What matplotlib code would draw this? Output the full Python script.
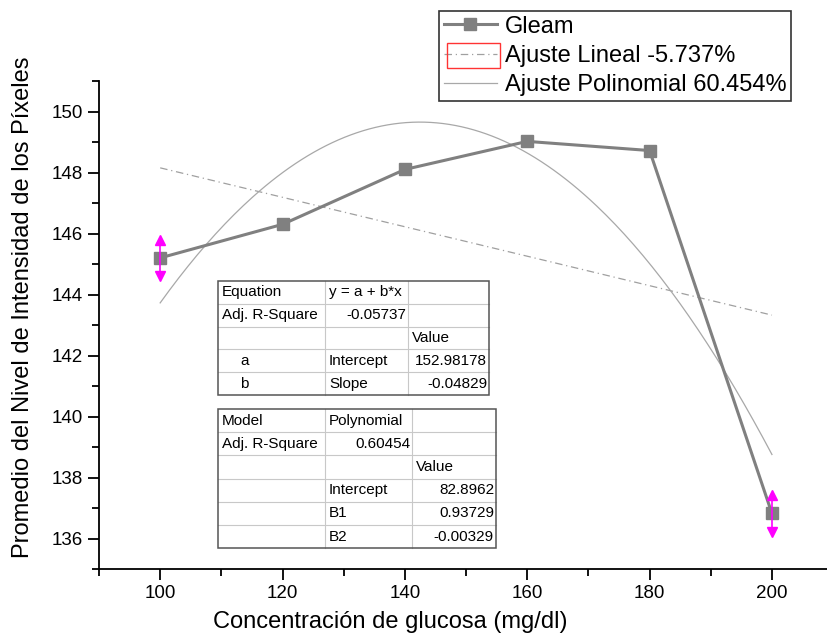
import matplotlib.pyplot as plt
import numpy as np
from matplotlib.patches import Rectangle
from matplotlib.ticker import MultipleLocator

plt.rcParams['font.family'] = ['Liberation Sans', 'DejaVu Sans']

# data
glucosa = [100, 120, 140, 160, 180, 200]
intensidad = [145.2, 146.3, 148.1, 149.02, 148.72, 136.82]
err_x = [100, 200]
err_y = [145.2, 136.82]
err_val = [0.6, 0.62]

lin_coef = [152.98178, -0.04829]           # a, b
poly_coef = [82.8962, 0.93729, -0.00329]   # intercept, B1, B2

tabla_lin = [["Equation", "y = a + b*x", ""],
             ["Adj. R-Square", "-0.05737", ""],
             ["", "", "Value"],
             ["a", "Intercept", "152.98178"],
             ["b", "Slope", "-0.04829"]]
tabla_poly = [["Model", "Polynomial", ""],
              ["Adj. R-Square", "0.60454", ""],
              ["", "", "Value"],
              ["", "Intercept", "82.8962"],
              ["", "B1", "0.93729"],
              ["", "B2", "-0.00329"]]

W, H = 827, 633
fig = plt.figure(figsize=(W / 100, H / 100), dpi=100)
ax = fig.add_axes([99 / W, 1 - 569 / H, 1 - 99 / W, (569 - 81) / H])

gris = '#808080'
xf = np.linspace(100, 200, 200)
y_lin = lin_coef[0] + lin_coef[1] * xf
y_poly = poly_coef[0] + poly_coef[1] * xf + poly_coef[2] * xf ** 2
l_lin, = ax.plot(xf, y_lin, color='#a0a0a0', lw=0.9, ls=(0, (6, 3, 1, 3)), zorder=2)
l_poly, = ax.plot(xf, y_poly, color='#a8a8a8', lw=0.9, zorder=2)
l_data, = ax.plot(glucosa, intensidad, color=gris, lw=2.2, marker='s', ms=8,
                  markerfacecolor=gris, markeredgecolor=gris, zorder=3)

# magenta error bars with arrow heads
ax.errorbar(err_x, err_y, yerr=err_val, fmt='none', ecolor='#ff00ff', elinewidth=1.2, zorder=4)
ax.plot(err_x, np.array(err_y) + np.array(err_val), ls='none', marker='^', ms=7,
        color='#ff00ff', zorder=4)
ax.plot(err_x, np.array(err_y) - np.array(err_val), ls='none', marker='v', ms=7,
        color='#ff00ff', zorder=4)

ax.set_xlim(90, 209)
ax.set_ylim(135, 151)
ax.xaxis.set_major_locator(MultipleLocator(20))
ax.xaxis.set_minor_locator(MultipleLocator(10))
ax.yaxis.set_major_locator(MultipleLocator(2))
ax.yaxis.set_minor_locator(MultipleLocator(1))
ax.spines['top'].set_visible(False)
ax.spines['right'].set_visible(False)
for s in ['left', 'bottom']:
    ax.spines[s].set_linewidth(1.3)
ax.tick_params(which='major', direction='out', length=8, width=1.3, labelsize=13.5)
ax.tick_params(which='minor', direction='out', length=5, width=1.3)
ax.set_xticks([100, 120, 140, 160, 180, 200])
ax.set_yticks([136, 138, 140, 142, 144, 146, 148, 150])

ax.set_xlabel("Concentración de glucosa (mg/dl)", fontsize=17)
ax.set_ylabel("Promedio del Nivel de Intensidad de los Píxeles", fontsize=17)
ax.xaxis.set_label_coords((390 - 99) / (W - 99), -(611 - 569) / (569 - 81))
ax.yaxis.set_label_coords(-(99 - 34) / (W - 99), (569 - 307) / (569 - 81))

leg = ax.legend([l_data, l_lin, l_poly],
                ["Gleam", "Ajuste Lineal -5.737%", "Ajuste Polinomial 60.454%"],
                loc='upper left', bbox_to_anchor=(439 / W, 1 - 11 / H),
                bbox_transform=fig.transFigure, fontsize=17, frameon=True,
                fancybox=False, framealpha=1, edgecolor='#333333',
                handlelength=2.25, handletextpad=0.35, labelspacing=0.3,
                borderpad=0.2, borderaxespad=0)
leg.get_frame().set_linewidth(1.2)

# overlay in pixel coordinates for the tables
ov = fig.add_axes([0, 0, 1, 1], zorder=10)
ov.set_xlim(0, W)
ov.set_ylim(H, 0)
ov.axis('off')
ov.patch.set_alpha(0)

ov.add_patch(Rectangle((447, 43), 53, 25, fill=False, edgecolor='#ff3333', lw=1))


def dibujar_tabla(filas, x0, y0, cols, alto):
    nfil = len(filas)
    x1 = cols[-1]
    y1 = y0 + nfil * alto
    ov.add_patch(Rectangle((x0, y0), x1 - x0, y1 - y0, facecolor='white',
                           edgecolor='none', zorder=1))
    for i in range(1, nfil):
        ov.plot([x0, x1], [y0 + i * alto] * 2, color='#c8c8c8', lw=0.8, zorder=2)
    for c in cols[:-1]:
        ov.plot([c, c], [y0, y1], color='#c8c8c8', lw=0.8, zorder=2)
    ov.add_patch(Rectangle((x0, y0), x1 - x0, y1 - y0, fill=False,
                           edgecolor='#555555', lw=1.1, zorder=3))
    bordes = [x0] + cols
    for i, fila in enumerate(filas):
        yc = y0 + (i + 0.5) * alto
        for j, txt in enumerate(fila):
            if not txt:
                continue
            izq, der = bordes[j], bordes[j + 1]
            derecha = txt[0] in '-0123456789' and i != 0
            if j == 0 and len(txt) == 1:
                ov.text(izq + 22, yc, txt, fontsize=11, ha='left', va='center', zorder=4)
            elif derecha:
                ov.text(der - 2, yc, txt, fontsize=11, ha='right', va='center', zorder=4)
            else:
                ov.text(izq + 4, yc, txt, fontsize=11, ha='left', va='center', zorder=4)


dibujar_tabla(tabla_lin, 218, 281, [325, 408, 489], 22.8)
dibujar_tabla(tabla_poly, 218, 409, [325, 412, 496], 23.2)

fig.savefig('out.png', dpi=100)
